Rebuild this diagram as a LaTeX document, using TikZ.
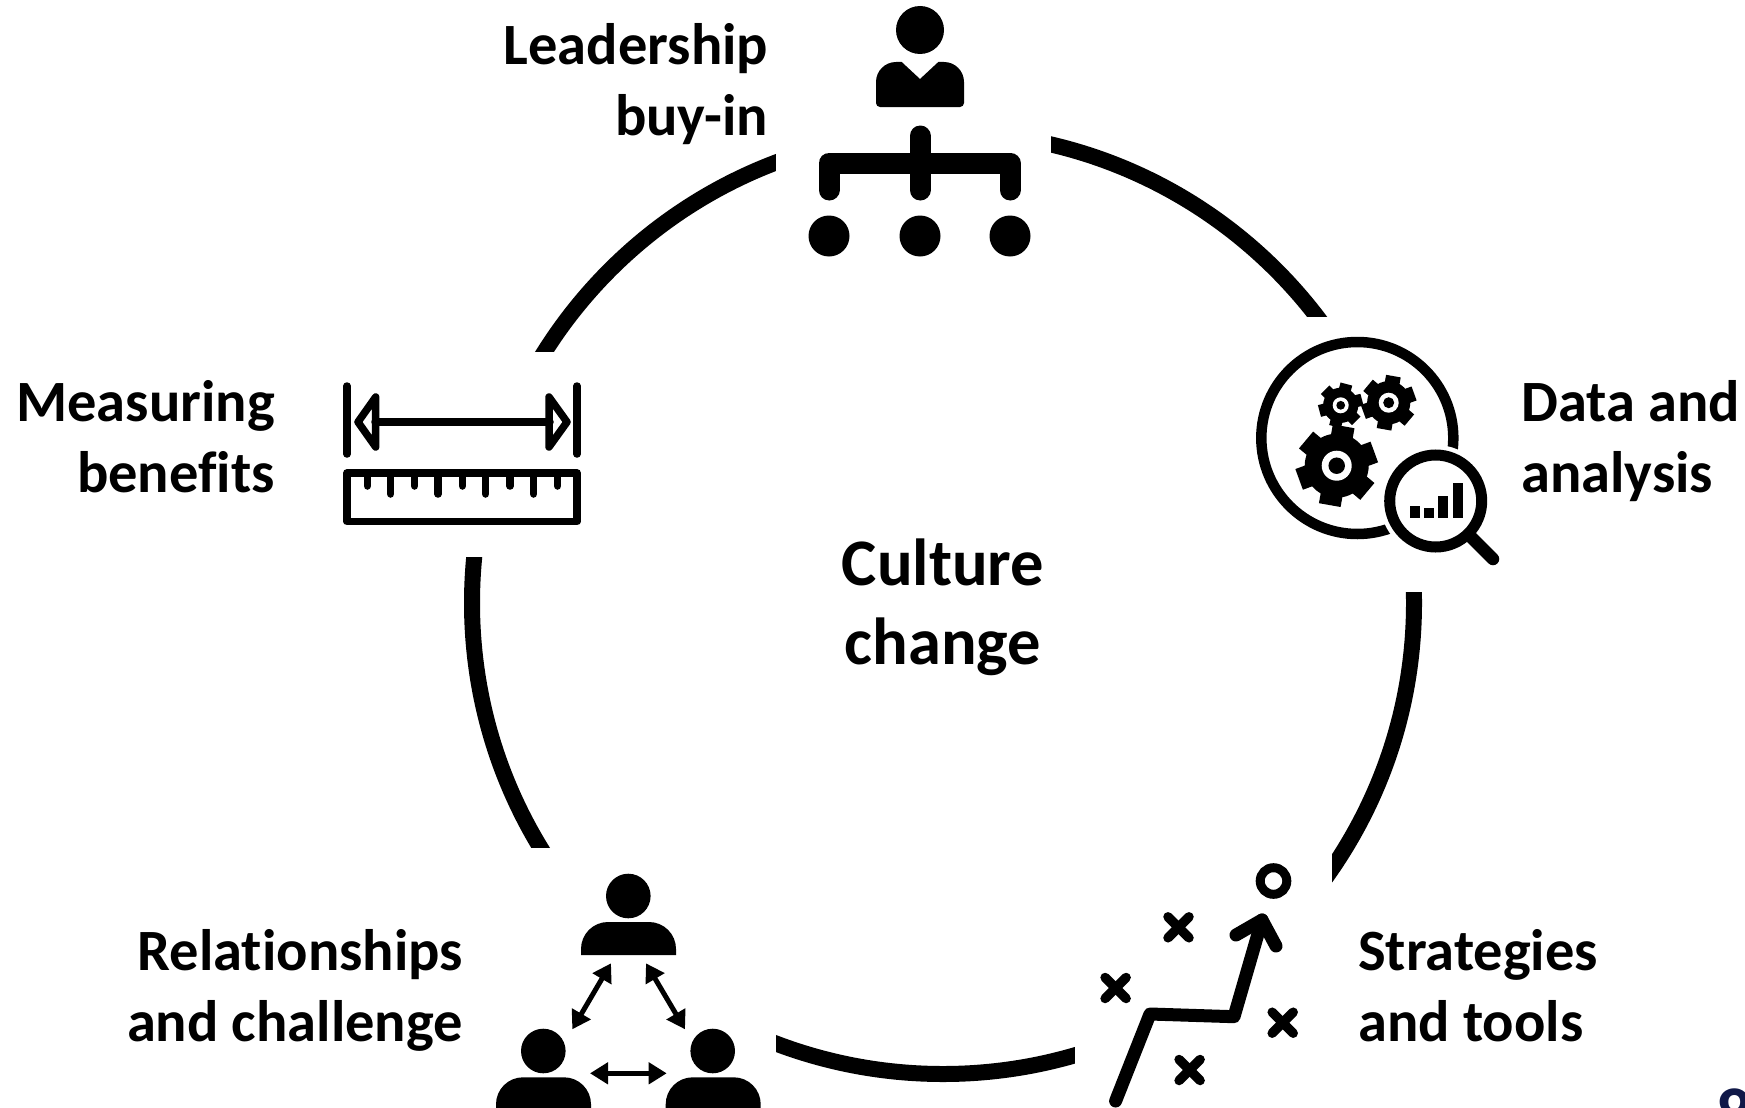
\documentclass[tikz,border=0pt]{standalone}
\usepackage{fontspec}
\setmainfont[Ligatures=NoCommon]{Carlito}
\usetikzlibrary{arrows.meta}
\definecolor{pagenavy}{RGB}{16,24,72}
\tikzset{
	lbl/.style={inner sep=0pt, font=\fontsize{58.5}{71}\selectfont\bfseries},
	gap/.style={fill=white},
	ico/.style={line cap=round, line join=round},
	twoway/.style={{Triangle[length=18pt,width=21pt]}-{Triangle[length=18pt,width=21pt]}, line width=5pt},
}
\newcommand{\gearicon}[5]{
	\foreach \a in {0,60,...,300}
		\draw[line width=#3*0.55pt, line cap=butt] (#1,#2) -- +(#5+\a:#3);
	\fill (#1,#2) circle ({#3*0.8});
	\fill[white] (#1,#2) circle ({#4});
	\fill (#1,#2) circle ({#4*0.55});
}
\begin{document}
\begin{tikzpicture}[x=1pt,y=-1pt]
	\useasboundingbox (0,0) rectangle (1745,1108);
	% ring and the gaps cut into it
	\draw[line width=16pt] (943,603) circle (471);
	\fill[gap] (776,0) rectangle (1051,270);
	\fill[gap] (1250,317) rectangle (1520,592);
	\fill[gap] (1075,800) rectangle (1332,1108);
	\fill[gap] (480,848) rectangle (776,1108);
	\fill[gap] (320,352) rectangle (600,557);
	% labels
	\node[lbl, align=center, font=\fontsize{66.5}{79}\selectfont\bfseries] (culture) at (943,607) {Culture\\change};
	\node[lbl, align=right, anchor=east] (leadership) at (768.5,84) {Leadership\\buy-in};
	\node[lbl, align=left, anchor=west] (data) at (1521,441.5) {Data and\\analysis};
	\node[lbl, align=left, anchor=west] (strategies) at (1358,986) {Strategies\\and tools};
	\node[lbl, align=right, anchor=east] (relationships) at (463,990.5) {Relationships\\and challenge};
	\node[lbl, align=right, anchor=east] (measuring) at (275,437) {Measuring\\benefits};
	\node[lbl, anchor=base, text=pagenavy, font=\fontsize{72}{86}\selectfont\bfseries] (pagenumber) at (1735,1138) {8};
	% leadership
	\fill (920,30) circle (24);
	\fill (920,79) [sharp corners] -- (901.7,62) [rounded corners=20pt] -- (876,62) [rounded corners=4pt] -- (876,107) -- (964,107) [rounded corners=20pt] -- (964,62) [sharp corners] -- (938.3,62) -- cycle;
	\draw[ico, line width=21pt] (829,190) -- (829,163) -- (1010,163) -- (1010,190);
	\draw[ico, line width=21pt] (920,136) -- (920,190);
	\foreach \x in {829,920,1010}
		\fill (\x,236) circle (20.5);
	% measuring
	\draw[ico, line width=7.5pt] (347,386) -- (347,454);
	\draw[ico, line width=7.5pt] (577,386) -- (577,454);
	\draw[ico, line width=7.5pt] (375,422) -- (550,422);
	\draw[ico, line width=7.5pt] (375.7,397) -- (358,422) -- (375.7,447) -- cycle;
	\draw[ico, line width=7.5pt] (549,397) -- (567,422) -- (549,447) -- cycle;
	\draw[line width=7.5pt, line join=round] (347,473) rectangle (577,521.6);
	\foreach \x in {367.3,414.7,462.3,510,557.7}
		\draw[ico, line width=7.5pt] (\x,473) -- (\x,486);
	\foreach \x in {390.7,438,485.7,533.7}
		\draw[ico, line width=7.5pt] (\x,473) -- (\x,494);
	% data
	\draw[line width=10.5pt] (1357.3,438) circle (96);
	\fill[white] (1435.7,501) circle (56);
	\draw[line width=11pt] (1435.7,501) circle (46);
	\draw[ico, line width=12.5pt] (1471,537) -- (1493,559);
	\fill (1410,505.7) rectangle (1420,518.3);
	\fill (1424,508.3) rectangle (1434,518.3);
	\fill (1438.3,496) rectangle (1448.3,518.3);
	\fill (1452.7,483.3) rectangle (1462.7,518.3);
	\gearicon{1336.7}{465.7}{40}{15}{100}
	\gearicon{1388.7}{402.7}{27}{10}{100}
	\gearicon{1340.7}{405.3}{22}{8}{105}
	% strategies
	\draw[line width=9pt] (1273.5,881) circle (13.3);
	\draw[ico, line width=13pt] (1115.6,1101) -- (1150,1014) -- (1234,1016.7) -- (1262,920);
	\draw[ico, line width=13pt] (1236,935) -- (1262,920) -- (1276,946);
	\foreach \x/\y in {1178.5/927.3,1115.6/988,1282.7/1022.7,1189.6/1070} {
		\draw[ico, line width=9.5pt] (\x-10.5,\y-10.5) -- (\x+10.5,\y+10.5);
		\draw[ico, line width=9.5pt] (\x-10.5,\y+10.5) -- (\x+10.5,\y-10.5);
	}
	% relationships
	\fill (628.3,896) circle (22.3);
	\fill (543.3,1051) circle (22.3);
	\fill (712.7,1051) circle (22.3);
	\fill (581,955) [rounded corners=27pt] -- (581,922) -- (676,922) [sharp corners] -- (676,955) -- cycle;
	\begin{scope}
		\clip (0,0) rectangle (1745,1108);
		\fill[rounded corners=27pt] (496,1140) -- (496,1077.3) -- (591,1077.3) -- (591,1140) -- cycle;
		\fill[rounded corners=27pt] (665.7,1140) -- (665.7,1077.3) -- (760.7,1077.3) -- (760.7,1140) -- cycle;
	\end{scope}
	\coordinate (topl) at (611,963.3);
	\coordinate (botl) at (572.3,1029.3);
	\coordinate (topr) at (646,963.3);
	\coordinate (botr) at (685,1029.3);
	\coordinate (midl) at (590,1073.3);
	\coordinate (midr) at (666.7,1073.3);
	\draw[twoway] (topl) -- (botl);
	\draw[twoway] (topr) -- (botr);
	\draw[twoway] (midl) -- (midr);
\end{tikzpicture}
\end{document}
